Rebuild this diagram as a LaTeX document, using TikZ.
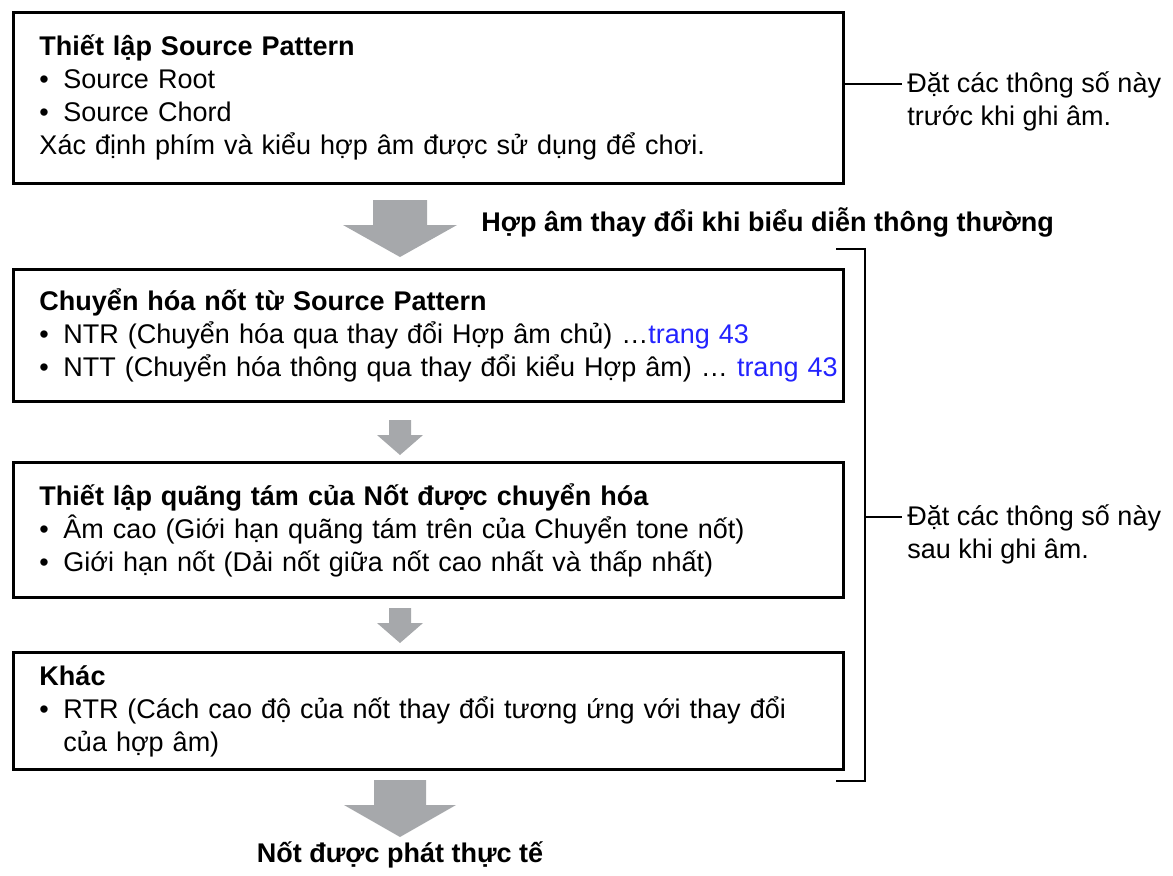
\documentclass[tikz,border=0pt]{standalone}
\usepackage{fontspec}
\setmainfont{Liberation Sans}
\definecolor{arrowgray}{RGB}{166,168,171}
\definecolor{linkblue}{RGB}{35,35,255}
\newcommand{\bul}{\makebox[12pt][l]{•}}
\newcommand{\pagelink}[1]{\textcolor{linkblue}{#1}}
\begin{document}
\begin{tikzpicture}[
		x={(0.5pt,0pt)},
		y={(0pt,-0.5pt)},
		box/.style={draw,line width=1.5pt,anchor=north west,minimum width=415pt,text width=389pt,inner xsep=13pt,inner ysep=0pt,align=left,font=\fontsize{13.5}{16.5}\selectfont},
		note/.style={inner sep=0pt,align=left,font=\fontsize{13.5}{16.5}\selectfont},
		thin/.style={line width=0.75pt},
	]
		\useasboundingbox (0,0) rectangle (1173,875);
		
		\node[box,minimum height=85.5pt] (setup) at (12,10.5) {\textbf{Thiết lập Source Pattern}\\
			\bul Source Root\\
			\bul Source Chord\\
			\mbox{Xác định phím và kiểu hợp âm được sử dụng để chơi.}};
		\node[box,minimum height=66pt] (transpose) at (12,267.5) {\textbf{Chuyển hóa nốt từ Source Pattern}\\
			\mbox{\bul NTR (Chuyển hóa qua thay đổi Hợp âm chủ) …\pagelink{trang 43}}\\
			\mbox{\bul NTT (Chuyển hóa thông qua thay đổi kiểu Hợp âm) … \pagelink{trang 43}}};
		\node[box,minimum height=67.5pt] (octave) at (12,461) {\textbf{Thiết lập quãng tám của Nốt được chuyển hóa}\\
			\mbox{\bul Âm cao (Giới hạn quãng tám trên của Chuyển tone nốt)}\\
			\mbox{\bul Giới hạn nốt (Dải nốt giữa nốt cao nhất và thấp nhất)}};
		\node[box,minimum height=58.5pt] (other) at (12,651) {\textbf{Khác}\\
			\mbox{\bul RTR (Cách cao độ của nốt thay đổi tương ứng với thay đổi}\\
			\hspace*{12pt}của hợp âm)};
		
		\foreach \ytop/\ymid/\ytip/\s/\h in {200/225/257/27/57, 420/435/455/11/23, 608/623/643/11/23, 780/805/837/26/56}{
			\fill[arrowgray] ({400-\s},\ytop) -- ({400+\s},\ytop) -- ({400+\s},\ymid) -- ({400+\h},\ymid) -- (400,\ytip) -- ({400-\h},\ymid) -- ({400-\s},\ymid) -- cycle;
		}
		
		\node[note,anchor=west] (chordnote) at (481,222) {\textbf{Hợp âm thay đổi khi biểu diễn thông thường}};
		\node[note,anchor=center] (played) at (400,855) {\textbf{Nốt được phát thực tế}};
		
		\node[note,anchor=base west] (before) at (907,125) {Đặt các thông số này\\trước khi ghi âm.};
		\node[note,anchor=base west] (after) at (907,558) {Đặt các thông số này\\sau khi ghi âm.};
		
		\coordinate (beforeend) at (902,84);
		\coordinate (afterend) at (902,517);
		\draw[thin] (setup.east |- beforeend) -- (beforeend);
		\draw[thin] (836,249) -- (865,249) -- (865,781) -- (836,781);
		\draw[thin] (865,517) -- (afterend);
	\end{tikzpicture}
\end{document}
